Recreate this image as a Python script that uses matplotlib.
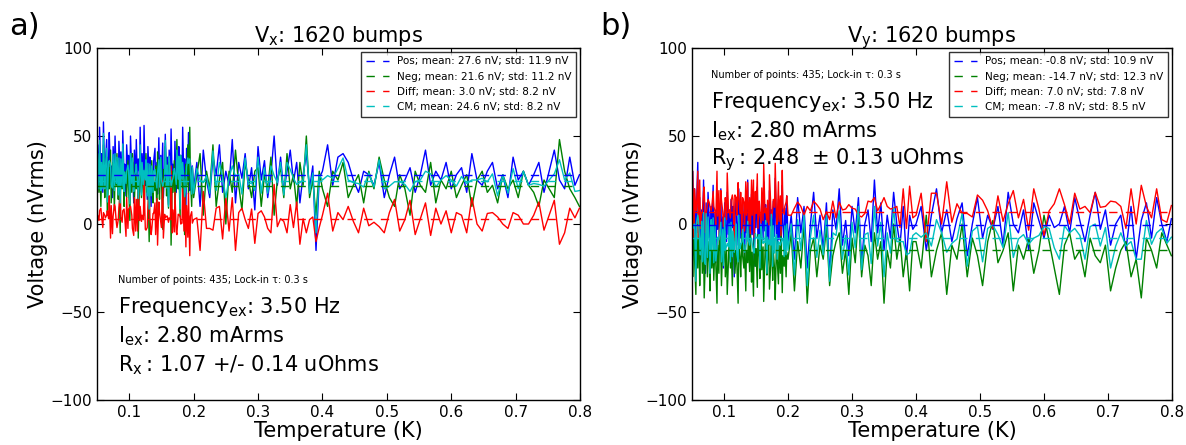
import numpy as np
import matplotlib
matplotlib.use("Agg")
import matplotlib.pyplot as plt

plt.rcParams['mathtext.default'] = 'regular'
plt.rcParams['font.family'] = ['DejaVu Sans']

# Temperature points (mK), shared by both panels
temp_mK = [
    50, 51, 53, 54, 56, 57, 59, 60, 62, 63,
    65, 66, 68, 69, 71, 72, 74, 75, 77, 78,
    80, 81, 83, 84, 86, 87, 89, 90, 92, 93,
    95, 96, 98, 99, 101, 102, 104, 105, 107, 108,
    110, 111, 113, 114, 116, 117, 119, 120, 122, 123,
    125, 126, 128, 129, 131, 132, 134, 135, 137, 138,
    140, 141, 143, 144, 146, 147, 149, 150, 152, 153,
    155, 156, 158, 159, 161, 162, 164, 165, 167, 168,
    170, 171, 173, 174, 176, 177, 179, 180, 182, 183,
    185, 186, 188, 189, 191, 192, 194, 195, 197, 198,
    200, 205, 210, 215, 220, 225, 230, 235, 240, 245,
    250, 255, 260, 265, 270, 275, 280, 285, 290, 295,
    300, 305, 310, 315, 320, 325, 330, 335, 340, 345,
    350, 355, 360, 365, 370, 375, 380, 385, 390, 395,
    400, 408, 416, 424, 432, 440, 448, 456, 464, 472,
    480, 488, 496, 504, 512, 520, 528, 536, 544, 552,
    560, 568, 576, 584, 592, 600, 608, 616, 624, 632,
    640, 648, 656, 664, 672, 680, 688, 696, 704, 712,
    720, 728, 736, 744, 752, 760, 768, 776, 784, 792,
    799,
]

# Panel a (Vx), nVrms
pos_x = [
    30, 45, 22, 55, 28, 40, 18, 58, 25, 35,
    48, 20, 38, 52, 26, 33, 15, 44, 30, 50,
    24, 36, 19, 47, 29, 41, 22, 53, 27, 34,
    16, 45, 31, 39, 21, 50, 28, 35, 12, 42,
    26, 48, 20, 37, 30, 55, 18, 40, 25, 56,
    22, 33, 14, 44, 27, 38, 10, 30, 24, 36,
    43, 21, 35, 17, 49, 28, 39, 23, 46, 15,
    32, 51, 25, 38, 11, 42, 29, 54, 20, 34,
    27, 47, 18, 36, 31, 44, 13, 39, 26, 55,
    21, 37, 8, 43, 30, 52, 19, 35, 24, 33,
    20, 35, 10, 42, 25, 15, 38, 28, 45, 18,
    30, 22, 48, 12, 35, 26, 40, 20, 32, 8,
    44, 25, 36, 15, 28, 50, 22, 38, 18, 30,
    42, 24, 35, 12, 28, 40, 20, 33, -15, 26,
    30, 45, 22, 38, 40, 35, 25, 18, 30, 28,
    22, 35, 15, 28, 38, 20, 25, 32, 18, 28,
    42, 22, 30, 25, 35, 20, 28, 32, 18, 40,
    25, 22, 30, 35, 20, 28, 15, 38, 25, 30,
    22, 28, 35, 18, 30, 42, 25, 20, 38, 22,
    28,
]
neg_x = [
    25, 35, 18, 40, 10, 30, 22, 45, 15, 28,
    38, 5, 32, 20, 42, 12, 26, 35, 8, 30,
    22, 40, 14, 28, -5, 33, 20, 38, 10, 25,
    30, 15, 36, 22, 2, 30, 18, 40, 25, 12,
    34, 20, 28, -8, 26, 35, 15, 30, 20, 5,
    28, 40, 18, 25, -10, 30, 22, 36, 12, 24,
    19, 33, 6, 41, 24, 14, 37, 27, -3, 31,
    21, 44, 16, 29, 9, 35, 23, -12, 30, 18,
    36, 11, 27, 48, 20, 33, 4, 39, 25, 15,
    29, -6, 34, 22, 45, 17, 55, 26, 10, 32,
    15, 28, 40, 5, 30, 20, 45, 10, 25, 35,
    0, 30, 18, 42, 22, 8, 35, 25, 15, 30,
    32, 10, 28, 20, 38, 5, 25, 32, 15, 40,
    20, 28, 10, 35, 22, 50, 15, 25, 5, 30,
    20, 10, 30, 25, 35, 15, 22, 28, 12, 30,
    20, 38, 25, 15, 10, 28, 20, 5, 30, 22,
    18, 35, 12, 25, 20, 30, 15, 22, 28, 10,
    25, 30, 18, 22, 12, 28, 20, 25, 15, 30,
    22, 18, 10, 25, 20, 15, 48, 30, 20, 15,
    10,
]

# Panel b (Vy), nVrms
pos_y = [
    5, 30, -10, 20, -25, 10, 35, -5, 15, -20,
    8, -15, 25, 0, -28, 12, -8, 18, 2, -18,
    10, -5, 22, -12, 6, -22, 15, -3, 10, -15,
    20, -8, 4, -25, 12, 0, -10, 18, -6, 8,
    -18, 14, -2, 10, -30, 5, 15, -12, 2, 20,
    -8, 6, -15, 12, 0, -20, 10, -5, 25, -10,
    3, -14, 17, -6, 9, -24, 13, -2, 21, -11,
    7, -19, 0, 15, -9, 24, -4, 11, -27, 6,
    -12, 19, -1, 8, -16, 13, -7, 26, -3, -21,
    14, -9, 4, -17, 22, 1, -13, 9, -5, 16,
    -10, 5, -20, 15, -5, 10, -25, 0, 18, -8,
    5, -15, 12, -30, 8, -3, 20, -12, 2, -18,
    10, -5, 15, -22, 0, 8, -10, 25, -5, 12,
    -15, 5, -8, 18, 0, -12, 10, -20, 5, -3,
    0, 10, -15, 5, 20, -5, 8, -10, 3, 12,
    -18, 0, 15, -8, 5, -3, 10, -12, 18, 0,
    -5, 8, -15, 12, 2, -8, 5, -2, 0, 10,
    -5, 15, 2, -10, 5, 18, -3, 8, -12, 0,
    5, -15, 10, -20, 2, 12, -8, 15, 0, -10,
    3,
]
neg_y = [
    -10, -30, 5, -20, -40, -8, -25, 10, -35, -15,
    -5, -28, -12, -42, -18, 0, -30, -10, -22, -38,
    -5, -25, -15, -32, -8, -20, -45, -12, -28, 2,
    -18, -35, -10, -22, -5, -30, -15, -40, -20, -8,
    -25, -12, -35, -18, -2, -28, -15, -22, -45, -10,
    -20, -30, -5, -18, -25, -12, -38, -15, -22, -8,
    -27, -3, -33, -16, -41, -9, -24, -14, -36, -6,
    -19, -31, -1, -26, -13, -44, -17, -7, -29, -21,
    -11, -37, -23, 3, -32, -15, -26, -43, -9, -19,
    -34, -12, -28, -4, -39, -18, -24, -11, -30, -16,
    -20, -5, -38, -10, -25, 0, -45, -15, -8, -30,
    -12, -20, -2, -35, -18, -10, -5, -28, -15, -40,
    -8, -22, 5, -30, -12, -18, -35, -5, -20, -10,
    -45, -15, -25, 0, -20, -8, -30, -15, -38, -10,
    -10, -25, 5, -30, -15, -5, -40, -12, -20, 0,
    -30, -8, -18, -35, -10, 2, -22, -15, -5, -38,
    -12, -20, -8, -28, -15, 5, -10, -25, -40, -12,
    -5, -20, -15, -30, -8, -18, -22, -12, -38, -25,
    -15, -10, -30, -20, -42, -8, -15, -25, -5, -12,
    -18,
]

# Legend values (mean, std), order: Pos, Neg, Diff, CM
names = ["Pos", "Neg", "Diff", "CM"]
means_x = [27.6, 21.6, 3.0, 24.6]
stds_x = [11.9, 11.2, 8.2, 8.2]
means_y = [-0.8, -14.7, 7.0, -7.8]
stds_y = [10.9, 12.3, 7.8, 8.5]
colores = ['b', 'g', 'r', 'c']

T = np.array(temp_mK) / 1000.0


def graficar_panel(ax, pos, neg, means, stds, comp, rtext, info_pos):
    pos = np.array(pos, dtype=float)
    neg = np.array(neg, dtype=float)
    diff = (pos - neg) / 2
    cm = (pos + neg) / 2
    for serie, c in zip([pos, neg, diff, cm], colores):
        ax.plot(T, serie, color=c, lw=1.0)
    for nombre, m, s, c in zip(names, means, stds, colores):
        ax.axhline(m, color=c, lw=1.0, ls=(0, (6, 6)),
                   label=f"{nombre}; mean: {m:.1f} nV; std: {s:.1f} nV")

    ax.set_xlim(0.05, 0.8)
    ax.set_ylim(-100, 100)
    ax.set_xticks([0.1, 0.2, 0.3, 0.4, 0.5, 0.6, 0.7, 0.8])
    ax.set_yticks([-100, -50, 0, 50, 100])
    ax.set_yticklabels(["\u2212100", "\u221250", "0", "50", "100"])
    ax.tick_params(direction='in', top=True, right=True, labelsize=11, length=5)
    ax.set_xlabel("Temperature (K)", fontsize=15, labelpad=1)
    ax.set_ylabel("Voltage (nVrms)", fontsize=15, labelpad=2)
    ax.set_title(f"V$_{comp}$: 1620 bumps", fontsize=15, pad=4)

    leg = ax.legend(loc='upper right', fontsize=7.5, fancybox=False,
                    borderaxespad=0.35, handlelength=2.2, labelspacing=0.5,
                    borderpad=0.45)
    leg.get_frame().set_edgecolor('black')
    leg.get_frame().set_linewidth(1.0)

    x0, y0 = info_pos
    ax.text(x0, y0, "Number of points: 435; Lock-in \u03c4: 0.3 s",
            transform=ax.transAxes, fontsize=7, va='center')
    ax.text(x0, y0 - 0.075, "Frequency$_{ex}$: 3.50 Hz",
            transform=ax.transAxes, fontsize=15, va='center')
    ax.text(x0, y0 - 0.158, "I$_{ex}$: 2.80 mArms",
            transform=ax.transAxes, fontsize=15, va='center')
    ax.text(x0, y0 - 0.24, rtext,
            transform=ax.transAxes, fontsize=15, va='center')

    for s in ax.spines.values():
        s.set_linewidth(1.0)


fig = plt.figure(figsize=(11.86, 4.45), dpi=100)
ax1 = fig.add_axes([0.0818, 0.1011, 0.4073, 0.791])
ax2 = fig.add_axes([0.5835, 0.1011, 0.4047, 0.791])

graficar_panel(ax1, pos_x, neg_x, means_x, stds_x, "x",
               "R$_x\\,$: 1.07 +/- 0.14 uOhms", (0.043, 0.34))
graficar_panel(ax2, pos_y, neg_y, means_y, stds_y, "y",
               "R$_y\\,$: 2.48  $\\pm$ 0.13 uOhms", (0.04, 0.923))

fig.text(0.008, 0.94, "a)", fontsize=22, va='center')
fig.text(0.506, 0.94, "b)", fontsize=22, va='center')

fig.savefig("out.png", dpi=100)
